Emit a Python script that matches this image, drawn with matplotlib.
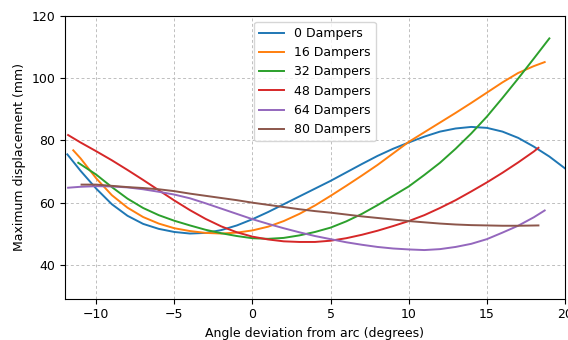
"""
Maximum displacement vs angle deviation for different damper counts
"""
import matplotlib
matplotlib.use("Agg")
import matplotlib.pyplot as plt

# values
x_0 = [-11.85, -11, -10, -9, -8, -7, -6, -5, -4, -3, -2, -1, 0, 1, 2, 3, 4, 5,
       6, 7, 8, 9, 10, 11, 12, 13, 14, 15, 16, 17, 18, 19, 20]
y_0 = [75.5, 70.2, 64.5, 59.5, 55.8, 53.2, 51.6, 50.6, 50.1, 50.3, 51.2, 52.7,
       54.7, 57, 59.5, 62, 64.5, 67, 69.7, 72.4, 75, 77.3, 79.3, 81.2, 82.8,
       83.8, 84.3, 84, 82.8, 80.8, 78, 74.8, 71]

x_16 = [-11.47, -11, -10, -9, -8, -7, -6, -5, -4, -3, -2, -1, 0, 1, 2, 3, 4, 5,
        6, 7, 8, 9, 10, 11, 12, 13, 14, 15, 16, 17, 18, 18.7]
y_16 = [76.8, 74.2, 67.8, 62.4, 58.4, 55.4, 53.3, 51.8, 50.9, 50.3, 50.1, 50.4,
        51.1, 52.3, 54.1, 56.4, 59.1, 62.2, 65.4, 68.7, 72.1, 75.8, 79.5, 82.6,
        85.7, 88.8, 92, 95.3, 98.6, 101.6, 103.8, 105.1]

x_32 = [-11.15, -10, -9, -8, -7, -6, -5, -4, -3, -2, -1, 0, 1, 2, 3, 4, 5, 6,
        7, 8, 9, 10, 11, 12, 13, 14, 15, 16, 17, 18, 19]
y_32 = [72.8, 69, 65, 61.3, 58.3, 56, 54.2, 52.7, 51.3, 50.2, 49.3, 48.6,
        48.4, 48.7, 49.5, 50.6, 52, 54, 56.4, 59.2, 62.2, 65.2, 68.9, 72.8, 77.3,
        82.2, 87.6, 93.6, 99.8, 106.2, 112.7]

x_48 = [-11.8, -11, -10, -9, -8, -7, -6, -5, -4, -3, -2, -1, 0, 1, 2, 3, 4, 5,
        6, 7, 8, 9, 10, 11, 12, 13, 14, 15, 16, 17, 18, 18.3]
y_48 = [81.7, 79.3, 76.5, 73.6, 70.5, 67.3, 64, 60.7, 57.6, 54.8, 52.4, 50.5,
        49.1, 48.2, 47.6, 47.4, 47.4, 47.8, 48.6, 49.7, 51, 52.5, 54.1, 56, 58.3,
        60.8, 63.6, 66.5, 69.6, 72.9, 76.4, 77.6]

x_64 = [-11.8, -11, -10, -9, -8, -7, -6, -5, -4, -3, -2, -1, 0, 1, 2, 3, 4, 5,
        6, 7, 8, 9, 10, 11, 12, 13, 14, 15, 16, 17, 18, 18.7]
y_64 = [64.8, 65.1, 65.3, 65.2, 64.9, 64.3, 63.5, 62.6, 61.4, 59.8, 58.1, 56.4,
        54.7, 53.2, 51.8, 50.5, 49.3, 48.3, 47.3, 46.5, 45.8, 45.3, 45, 44.8,
        45.1, 45.8, 46.8, 48.3, 50.4, 52.6, 55.3, 57.5]

x_80 = [-10.94, -10, -9, -8, -7, -6, -5, -4, -3, -2, -1, 0, 1, 2, 3, 4, 5, 6,
        7, 8, 9, 10, 11, 12, 13, 14, 15, 16, 17, 18.3]
y_80 = [65.8, 65.8, 65.4, 65, 64.7, 64.3, 63.7, 62.9, 62.2, 61.5, 60.8, 60,
        59.3, 58.6, 57.9, 57.3, 56.8, 56.2, 55.6, 55.1, 54.6, 54.1, 53.7, 53.3,
        53, 52.8, 52.7, 52.6, 52.6, 52.7]

series = [
    (x_0, y_0, "0 Dampers"),
    (x_16, y_16, "16 Dampers"),
    (x_32, y_32, "32 Dampers"),
    (x_48, y_48, "48 Dampers"),
    (x_64, y_64, "64 Dampers"),
    (x_80, y_80, "80 Dampers"),
]

plt.rcParams["font.size"] = 9

fig = plt.figure(figsize=(5.68, 3.4), dpi=100)
ax = fig.add_axes([0.1144, 0.1215, 0.8803, 0.8325])

for x, y, label in series:
    ax.plot(x, y, label=label, linewidth=1.4)

ax.set_xlim(-12, 20)
ax.set_ylim(29.2, 120)
ax.set_yticks([40, 60, 80, 100, 120])
ax.grid(True, linestyle=(0, (3, 2.5)), color="0.75", linewidth=0.7)

ax.set_xlabel("Angle deviation from arc (degrees)")
ax.set_ylabel("Maximum displacement (mm)")
ax.legend(loc="upper center")

fig.savefig("out.png", dpi=100)
